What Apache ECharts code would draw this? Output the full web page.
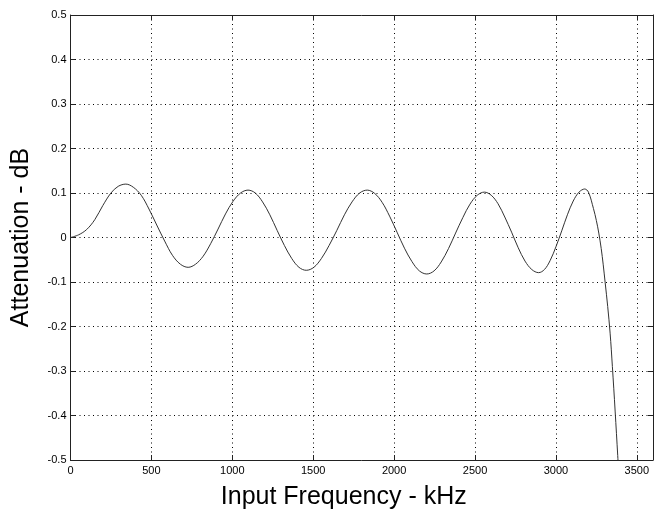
<!DOCTYPE html>
<html>
<head>
<meta charset="utf-8">
<script src="https://cdn.jsdelivr.net/npm/echarts@6/dist/echarts.min.js"></script>
<style>
html,body{margin:0;padding:0;background:#fff;}
#chart{width:663px;height:515px;}
</style>
</head>
<body>
<div id="chart"></div>
<script>
const freqKHz = [0, 50, 100, 150, 200, 250, 295, 342, 388, 437, 485, 533, 582, 630, 679, 727,
  773, 820, 866, 912, 958, 1004, 1051, 1097, 1142, 1187, 1232, 1277, 1322, 1367, 1412, 1457,
  1504, 1551, 1598, 1646, 1693, 1740, 1787, 1834, 1880, 1926, 1972, 2018, 2064, 2110, 2156, 2202,
  2247, 2291, 2336, 2380, 2425, 2469, 2514, 2558, 2600, 2642, 2684, 2726, 2767, 2809, 2851, 2893,
  2929, 2964, 3000, 3036, 3071, 3107, 3143, 3178, 3201, 3232, 3250, 3265, 3280, 3292, 3304, 3320,
  3335, 3349, 3366, 3382, 3398];
const attenDB = [0, 0.006, 0.018, 0.04, 0.072, 0.1, 0.115, 0.12, 0.113, 0.095, 0.064, 0.028, -0.008, -0.04, -0.06, -0.067,
  -0.06, -0.042, -0.014, 0.019, 0.053, 0.081, 0.1, 0.1065, 0.1, 0.08, 0.051, 0.016, -0.018, -0.047, -0.067, -0.0737,
  -0.067, -0.047, -0.018, 0.016, 0.051, 0.08, 0.1, 0.1065, 0.099, 0.079, 0.048, 0.012, -0.024, -0.054, -0.075, -0.082,
  -0.075, -0.055, -0.025, 0.01, 0.045, 0.075, 0.095, 0.102, 0.095, 0.076, 0.046, 0.012, -0.023, -0.053, -0.072, -0.079,
  -0.072, -0.052, -0.021, 0.015, 0.051, 0.082, 0.102, 0.109, 0.102, 0.065, 0.038, 0.01, -0.025, -0.06, -0.1, -0.155,
  -0.215, -0.29, -0.39, -0.49, -0.59];
const xTicks = [0, 500, 1000, 1500, 2000, 2500, 3000, 3500];
const yTicks = [-0.5, -0.4, -0.3, -0.2, -0.1, 0, 0.1, 0.2, 0.3, 0.4, 0.5];
const xTitle = 'Input Frequency - kHz';
const yTitle = 'Attenuation - dB';

const data = freqKHz.map((f, i) => [f, attenDB[i]]);
const font = 'Liberation Sans, Arial, Helvetica, sans-serif';
const gridDots = {show: true, lineStyle: {color: '#000', width: 1, type: [1, 3.5]}};
const axisLine = {show: true, onZero: false, lineStyle: {color: '#222', width: 1}};
const ticks = {show: true, inside: true, length: 5, lineStyle: {color: '#222'}};

const chart = echarts.init(document.getElementById('chart'), null, {renderer: 'canvas'});
chart.setOption({
  animation: false,
  backgroundColor: '#fff',
  grid: {left: 70.5, right: 10, top: 15, bottom: 52, containLabel: false},
  xAxis: [{
    type: 'value', position: 'bottom', min: 0, max: 3600, interval: 500,
    axisLine: axisLine, axisTick: ticks, splitLine: gridDots,
    axisLabel: {color: '#000', fontFamily: font, fontSize: 11, margin: 5, showMaxLabel: false,
      formatter: v => xTicks.includes(v) ? String(v) : ''},
    name: xTitle, nameLocation: 'middle', nameGap: 25,
    nameTextStyle: {color: '#000', fontFamily: font, fontSize: 25, padding: [0, 36, 0, 0]}
  }, {
    type: 'value', position: 'top', min: 0, max: 3600, interval: 500,
    axisLine: axisLine, axisTick: ticks, splitLine: {show: false}, axisLabel: {show: false}
  }],
  yAxis: [{
    type: 'value', position: 'left', min: -0.5, max: 0.5, interval: 0.1,
    axisLine: axisLine, axisTick: ticks, splitLine: gridDots,
    axisLabel: {color: '#000', fontFamily: font, fontSize: 11, margin: 4,
      formatter: v => {
        const t = yTicks.find(y => Math.abs(y - v) < 1e-9);
        if (t === undefined) return '';
        return t === 0 ? '0' : t.toFixed(1);
      }},
    name: yTitle, nameLocation: 'middle', nameGap: 37,
    nameTextStyle: {color: '#000', fontFamily: font, fontSize: 25}
  }, {
    type: 'value', position: 'right', min: -0.5, max: 0.5, interval: 0.1,
    axisLine: axisLine, axisTick: ticks, splitLine: {show: false}, axisLabel: {show: false}
  }],
  series: [{
    type: 'line', xAxisIndex: 0, yAxisIndex: 0, data: data,
    showSymbol: false, smooth: 0.35, clip: true,
    lineStyle: {color: '#333', width: 1}
  }]
});
</script>
</body>
</html>
